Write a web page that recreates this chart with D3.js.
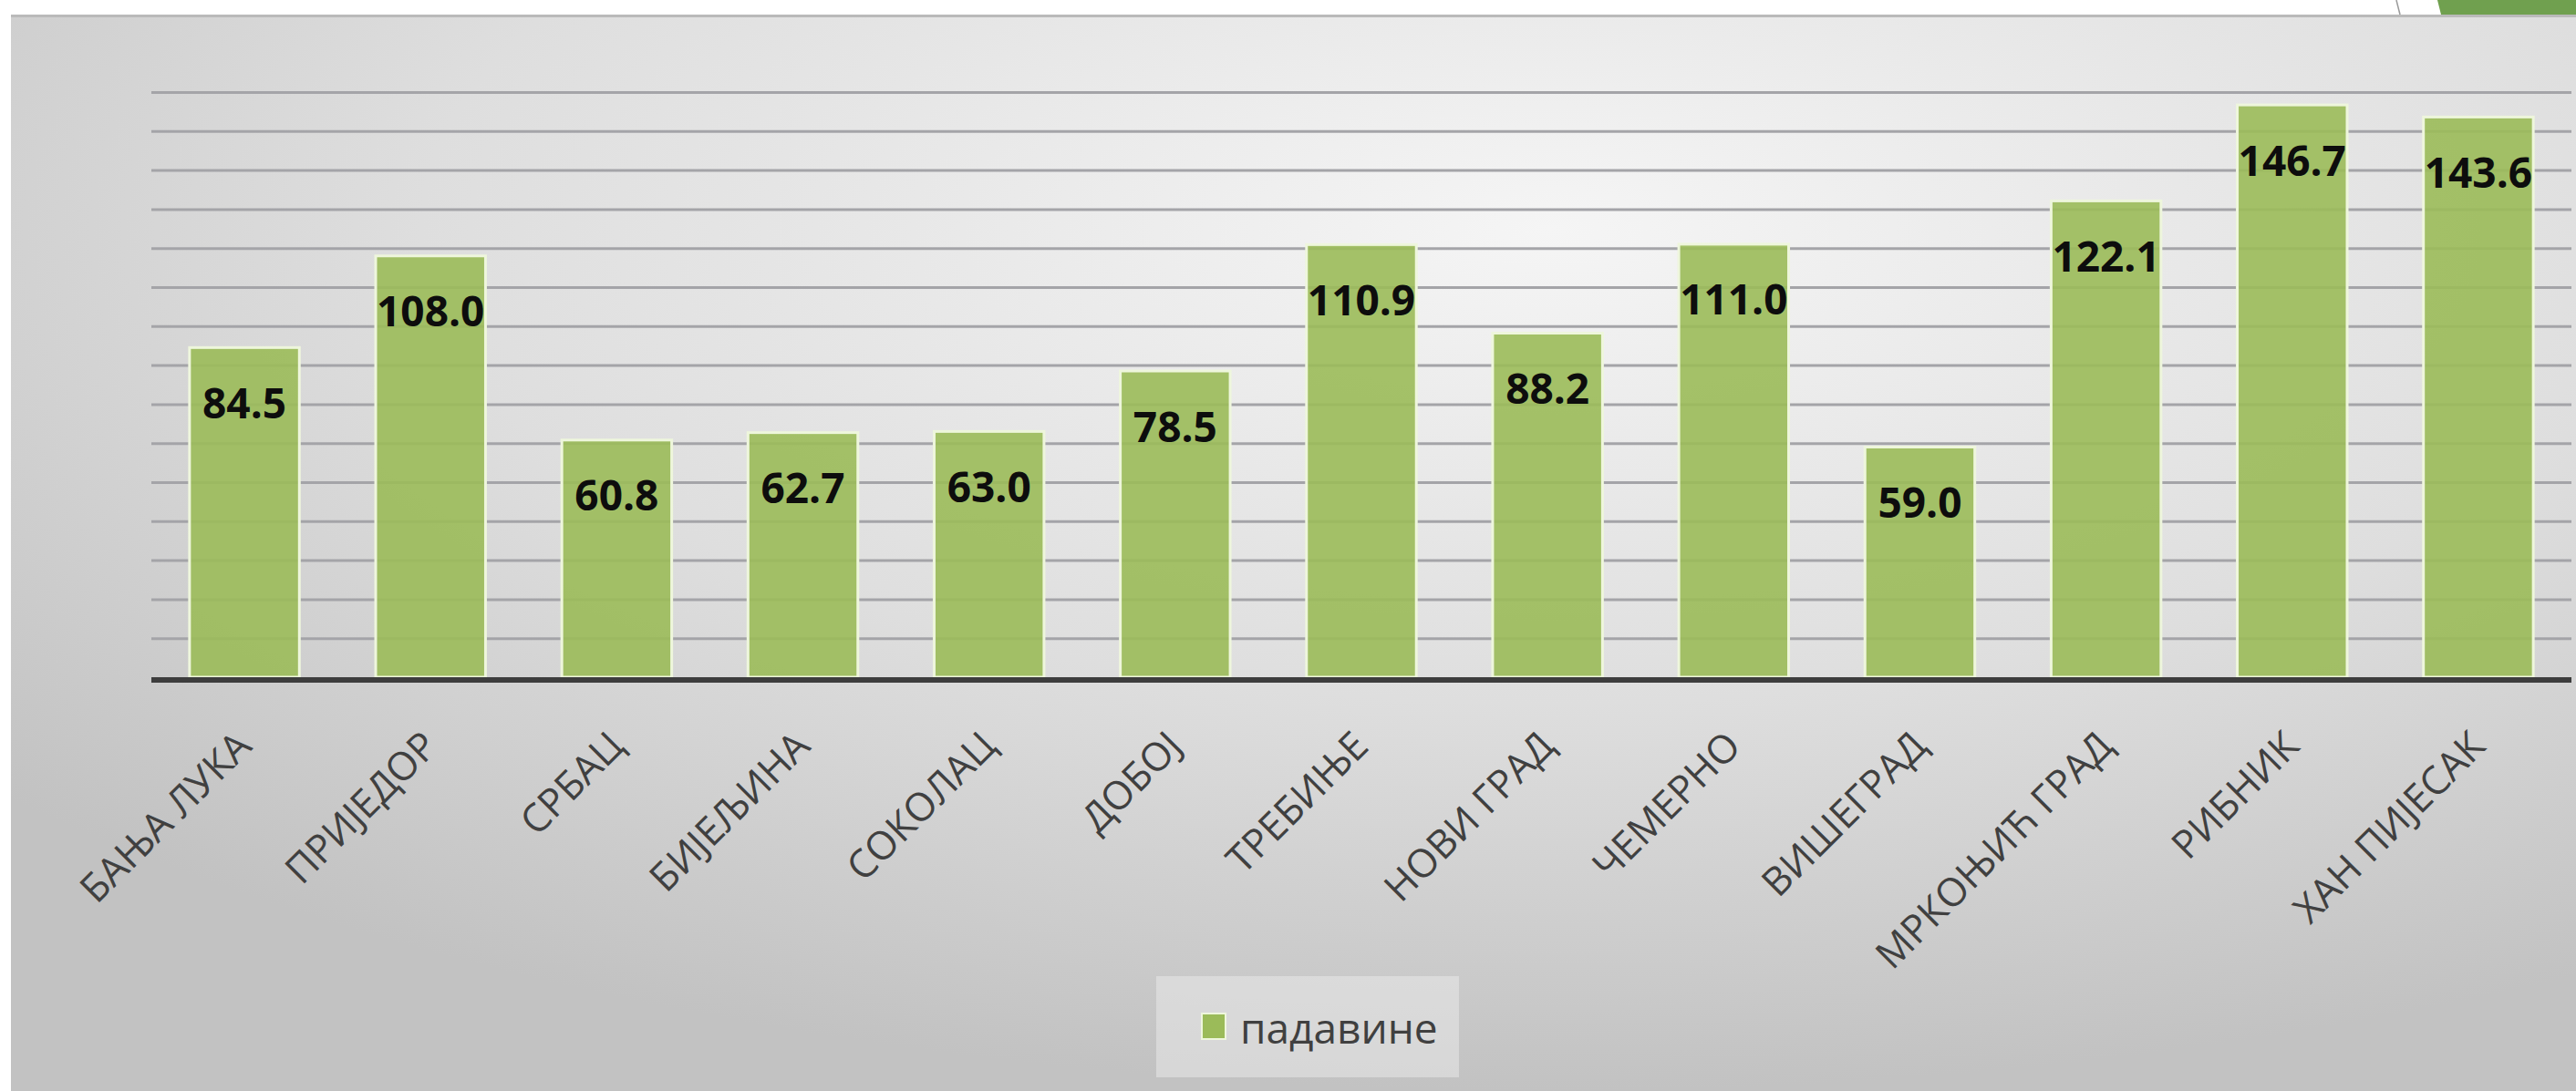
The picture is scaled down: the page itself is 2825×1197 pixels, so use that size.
<!DOCTYPE html>
<html>
<head>
<meta charset="utf-8">
<script src="https://cdn.jsdelivr.net/npm/d3@7"></script>
<style>
  body { margin: 0; background: #ffffff; }
  svg { display: block; }
</style>
</head>
<body>
<div id="chart"></div>
<script>
const stations = ["БАЊА ЛУКА", "ПРИЈЕДОР", "СРБАЦ", "БИЈЕЉИНА", "СОКОЛАЦ", "ДОБОЈ", "ТРЕБИЊЕ", "НОВИ ГРАД", "ЧЕМЕРНО", "ВИШЕГРАД", "МРКОЊИЋ ГРАД", "РИБНИК", "ХАН ПИЈЕСАК"];
const precipitation = [84.5, 108.0, 60.8, 62.7, 63.0, 78.5, 110.9, 88.2, 111.0, 59.0, 122.1, 146.7, 143.6];
const seriesName = "падавине";
const gridValues = [10, 20, 30, 40, 50, 60, 70, 80, 90, 100, 110, 120, 130, 140, 150];

const width = 2825;
const height = 1197;
const plot = { left: 166, right: 2820, top: 101, bottom: 743 };
const green = "#9bbb59";

const svg = d3.select("#chart")
  .append("svg")
  .attr("width", width)
  .attr("height", height);

// panel background
const defs = svg.append("defs");
const grad = defs.append("radialGradient")
  .attr("id", "bg")
  .attr("cx", 0.6).attr("cy", 0.2).attr("r", 0.8);
grad.append("stop").attr("offset", "0%").attr("stop-color", "#f5f5f5");
grad.append("stop").attr("offset", "55%").attr("stop-color", "#dedede");
grad.append("stop").attr("offset", "100%").attr("stop-color", "#c2c2c2");

svg.append("rect")
  .attr("x", 12).attr("y", 16)
  .attr("width", width - 12).attr("height", height - 16)
  .attr("fill", "url(#bg)");
svg.append("line")
  .attr("x1", 12).attr("x2", width)
  .attr("y1", 17.5).attr("y2", 17.5)
  .attr("stroke", "#bababa").attr("stroke-width", 3);

// slide decoration top right
svg.append("polygon")
  .attr("points", "2673,0 2825,0 2825,16 2677,16")
  .attr("fill", "#70a04f");
svg.append("line")
  .attr("x1", 2628).attr("y1", 0).attr("x2", 2632).attr("y2", 16)
  .attr("stroke", "#9a9a9a").attr("stroke-width", 1.5);

const x = d3.scaleBand()
  .domain(stations)
  .range([plot.left, plot.right])
  .paddingInner(0.41)
  .paddingOuter(0.205);

const y = d3.scaleLinear()
  .domain([0, 150])
  .range([plot.bottom, plot.top]);

// gridlines
svg.append("g")
  .attr("transform", `translate(${plot.left},0)`)
  .call(d3.axisLeft(y).tickValues(gridValues).tickSize(-(plot.right - plot.left)).tickFormat(""))
  .call(g => g.select(".domain").remove())
  .call(g => g.selectAll(".tick line")
    .attr("stroke", "#a4a4a8")
    .attr("stroke-width", 3));

// bars
svg.selectAll(".bar")
  .data(precipitation)
  .join("rect")
  .attr("class", "bar")
  .attr("x", (d, i) => x(stations[i]))
  .attr("y", d => y(d))
  .attr("width", x.bandwidth())
  .attr("height", d => y(0) - y(d))
  .attr("fill", green)
  .attr("fill-opacity", 0.9)
  .attr("stroke", "#eef6dc")
  .attr("stroke-width", 3);

// value labels
svg.selectAll(".value")
  .data(precipitation)
  .join("text")
  .attr("class", "value")
  .attr("x", (d, i) => x(stations[i]) + x.bandwidth() / 2)
  .attr("y", d => y(d) + 61)
  .attr("dy", "0.36em")
  .attr("text-anchor", "middle")
  .attr("font-family", "'Open Sans', sans-serif")
  .attr("font-weight", 700)
  .attr("font-size", 46)
  .attr("fill", "#0d0d0d")
  .text(d => d.toFixed(1));

// x axis
svg.append("g")
  .attr("transform", `translate(0,${plot.bottom})`)
  .call(d3.axisBottom(x).tickSize(0).tickPadding(0))
  .call(g => g.select(".domain").remove())
  .call(g => g.selectAll(".tick text")
    .attr("x", null).attr("y", null).attr("dy", null)
    .attr("transform", "translate(10,78) rotate(-45)")
    .attr("text-anchor", "end")
    .attr("font-family", "'Open Sans', sans-serif")
    .attr("font-size", 43)
    .attr("fill", "#404040"));

svg.append("line")
  .attr("x1", plot.left).attr("x2", plot.right)
  .attr("y1", y(0) + 3).attr("y2", y(0) + 3)
  .attr("stroke", "#3d3d3d").attr("stroke-width", 6);

// legend
const legend = svg.append("g");
legend.append("rect")
  .attr("x", 1268).attr("y", 1071)
  .attr("width", 332).attr("height", 111)
  .attr("fill", "#ebebeb").attr("fill-opacity", 0.5);
legend.append("rect")
  .attr("x", 1318).attr("y", 1112)
  .attr("width", 26).attr("height", 28)
  .attr("fill", green)
  .attr("stroke", "#eef6dc").attr("stroke-width", 2);
legend.append("text")
  .attr("x", 1360).attr("y", 1145)
  .attr("font-family", "'Open Sans', sans-serif")
  .attr("font-size", 46)
  .attr("fill", "#404040")
  .text(seriesName);
</script>
</body>
</html>
